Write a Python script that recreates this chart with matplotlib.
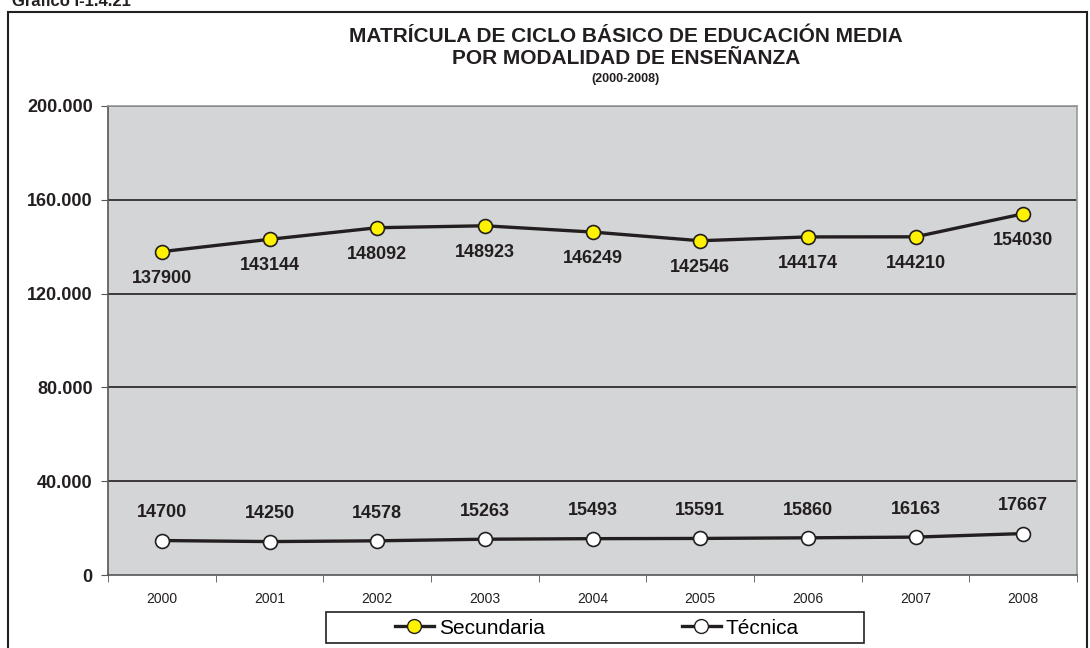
import matplotlib.pyplot as plt
from matplotlib.patches import Rectangle
from matplotlib.lines import Line2D
import numpy as np

plt.rcParams['font.family'] = ['Liberation Sans', 'DejaVu Sans']

# Datos
years = ['2000', '2001', '2002', '2003', '2004', '2005', '2006', '2007', '2008']
secundaria = [137900, 143144, 148092, 148923, 146249, 142546, 144174, 144210, 154030]
tecnica = [14700, 14250, 14578, 15263, 15493, 15591, 15860, 16163, 17667]

fig = plt.figure(figsize=(10.9, 6.48), dpi=100)
ax = fig.add_axes([108/1090, 1 - 575/648, 969/1090, 469/648])

x = np.arange(len(years))
ax.set_facecolor('#D4D5D7')

ax.plot(x, secundaria, color='#231F20', linewidth=2.4, marker='o', markersize=10,
        markerfacecolor='#FFF200', markeredgecolor='#231F20', markeredgewidth=1.2, zorder=3)
ax.plot(x, tecnica, color='#231F20', linewidth=2.4, marker='o', markersize=10,
        markerfacecolor='white', markeredgecolor='#231F20', markeredgewidth=1.2, zorder=3)

# Etiquetas de valores
for xi, v in zip(x, secundaria):
    ax.annotate(str(v), (xi, v), xytext=(0, -19), textcoords='offset points',
                ha='center', va='center', fontsize=13, fontweight='bold', color='#231F20')
for xi, v in zip(x, tecnica):
    ax.annotate(str(v), (xi, v), xytext=(0, 20), textcoords='offset points',
                ha='center', va='center', fontsize=13, fontweight='bold', color='#231F20')

ax.set_xlim(-0.5, len(years) - 0.5)
ax.set_ylim(0, 200000)
yt = np.arange(0, 200001, 40000)
ax.set_yticks(yt)
ax.set_yticklabels(['0' if v == 0 else f'{v:,}'.replace(',', '.') for v in yt],
                   fontsize=13, fontweight='bold', color='#231F20')
ax.set_xticks(x)
ax.set_xticklabels(years, fontsize=10, color='#231F20')
ax.set_xticks(np.arange(-0.5, len(years)), minor=True)
ax.tick_params(axis='x', which='major', length=0, pad=12)
ax.tick_params(axis='x', which='minor', length=5, color='#555555')
ax.tick_params(axis='y', length=5, color='#555555', pad=6)

for yv in yt[1:]:
    ax.axhline(yv, color='#231F20', linewidth=1.2, zorder=1)

for side in ['left', 'bottom']:
    ax.spines[side].set_color('#555555')
    ax.spines[side].set_linewidth(1.2)
for side in ['top', 'right']:
    ax.spines[side].set_color('#9A9A9A')
    ax.spines[side].set_linewidth(1.2)

# Títulos
tx = 626 / 1090
fig.text(tx, 1 - 36/648, 'MATRÍCULA DE CICLO BÁSICO DE EDUCACIÓN MEDIA',
         ha='center', va='center', fontsize=15, fontweight='bold', color='#231F20')
fig.text(tx, 1 - 59/648, 'POR MODALIDAD DE ENSEÑANZA',
         ha='center', va='center', fontsize=15, fontweight='bold', color='#231F20')
fig.text(tx, 1 - 79/648, '(2000-2008)',
         ha='center', va='center', fontsize=9, fontweight='bold', color='#231F20')
fig.text(12/1090, 1 - 2/648, 'Gráfico I-1.4.21', ha='left', va='center',
         fontsize=12, fontweight='bold', color='#231F20')

# Marco exterior
fig.patches.append(Rectangle((8/1090, -0.01), 1079/1090, 1 - 12/648 + 0.01,
                             transform=fig.transFigure, fill=False,
                             edgecolor='#231F20', linewidth=1.5))

# Leyenda
handles = [
    Line2D([], [], color='#231F20', linewidth=2.4, marker='o', markersize=10,
           markerfacecolor='#FFF200', markeredgecolor='#231F20', label='Secundaria'),
    Line2D([], [], color='#231F20', linewidth=2.4, marker='o', markersize=10,
           markerfacecolor='white', markeredgecolor='#231F20', label='Técnica'),
]
fig.legend(handles=handles, loc='center', bbox_to_anchor=(597/1090, 1 - 628/648),
           ncol=2, frameon=False, fontsize=15, handlelength=1.85,
           handletextpad=0.25, columnspacing=6.6, borderpad=0.0)
fig.patches.append(Rectangle((326/1090, 1 - 643/648), 538/1090, 31/648,
                             transform=fig.transFigure, fill=False,
                             edgecolor='#231F20', linewidth=1.2))

plt.savefig('out.png', dpi=100)
plt.close()
